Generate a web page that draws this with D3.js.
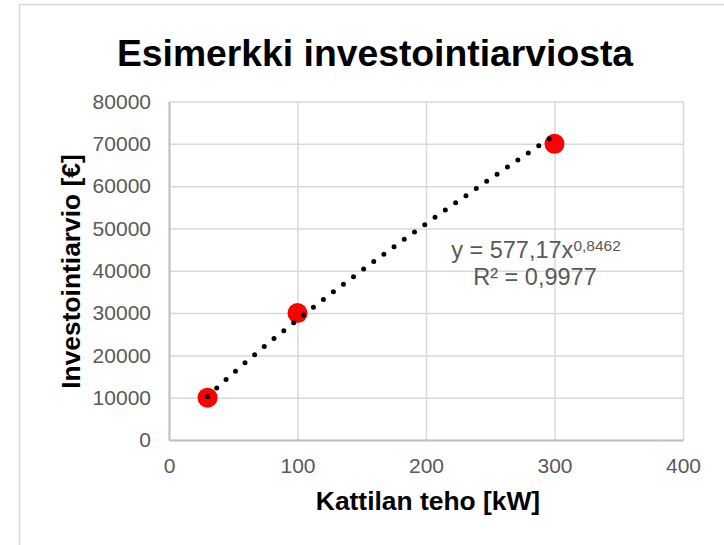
<!DOCTYPE html>
<html>
<head>
<meta charset="utf-8">
<script src="https://cdn.jsdelivr.net/npm/d3@7"></script>
<style>
  body { margin: 0; background: #fff; }
  text { font-family: "Liberation Sans", Arial, sans-serif; }
</style>
</head>
<body>
<svg width="724" height="545"></svg>
<script>
// data
const kw = [30, 100, 300];
const eur = [10000, 30000, 70000];
const xTicks = [0, 100, 200, 300, 400];
const yTicks = [0, 10000, 20000, 30000, 40000, 50000, 60000, 70000, 80000];
// power trendline as shown in the label
const trendA = 577.17, trendB = 0.8462;
const eqText = "y = 577,17x", eqExp = "0,8462", r2Text = "R² = 0,9977";

const svg = d3.select("svg");
const mLeft = 169, mTop = 101.5, mRight = 683, mBottom = 440;

// chart area border
svg.append("rect")
  .attr("x", 19.5).attr("y", 4.5)
  .attr("width", 720).attr("height", 560)
  .attr("fill", "#fff").attr("stroke", "#d9d9d9").attr("stroke-width", 1.5);

svg.append("text")
  .attr("x", 375).attr("y", 66)
  .attr("text-anchor", "middle")
  .attr("font-size", 37.3).attr("font-weight", "bold")
  .attr("fill", "#000")
  .text("Esimerkki investointiarviosta");

const x = d3.scaleLinear().domain([0, 400]).range([mLeft, mRight]);
const y = d3.scaleLinear().domain([0, 80000]).range([mBottom, mTop]);

// gridlines
svg.append("g")
  .attr("transform", "translate(0," + mBottom + ")")
  .call(d3.axisBottom(x).tickValues(xTicks).tickSize(-(mBottom - mTop)).tickFormat(""))
  .call(g => g.select(".domain").remove())
  .call(g => g.selectAll("line").attr("stroke", "#d9d9d9").attr("stroke-width", 1.5));
svg.append("g")
  .attr("transform", "translate(" + mLeft + ",0)")
  .call(d3.axisLeft(y).tickValues(yTicks).tickSize(-(mRight - mLeft)).tickFormat(""))
  .call(g => g.select(".domain").remove())
  .call(g => g.selectAll("line").attr("stroke", "#d9d9d9").attr("stroke-width", 1.5));

// axis lines + labels
const xAxis = svg.append("g")
  .attr("transform", "translate(0," + mBottom + ")")
  .call(d3.axisBottom(x).tickValues(xTicks).tickSize(0).tickPadding(18).tickFormat(d3.format("d")));
const yAxis = svg.append("g")
  .attr("transform", "translate(" + mLeft + ",0)")
  .call(d3.axisLeft(y).tickValues(yTicks).tickSize(0).tickPadding(18).tickFormat(d3.format("d")));
[xAxis, yAxis].forEach(g => {
  g.select(".domain").attr("stroke", "#bfbfbf").attr("stroke-width", 2);
  g.selectAll("text").attr("font-size", 21).attr("fill", "#595959")
    .attr("font-family", "Liberation Sans, Arial, sans-serif");
});

svg.append("text")
  .attr("x", 428).attr("y", 510)
  .attr("text-anchor", "middle")
  .attr("font-size", 26.4).attr("font-weight", "bold")
  .text("Kattilan teho [kW]");
svg.append("text")
  .attr("transform", "translate(80,271.5) rotate(-90)")
  .attr("text-anchor", "middle")
  .attr("font-size", 26.4).attr("font-weight", "bold")
  .text("Investointiarvio [€]");

// points
svg.selectAll(".pt")
  .data(kw)
  .enter().append("circle")
  .attr("class", "pt")
  .attr("cx", d => x(d))
  .attr("cy", (d, i) => y(eur[i]))
  .attr("r", 10)
  .attr("fill", "#ff0000");

// trendline, drawn over the markers
const xs = d3.range(kw[0], kw[kw.length - 1] + 0.5, 1);
svg.append("path")
  .datum(xs)
  .attr("fill", "none")
  .attr("stroke", "#000")
  .attr("stroke-width", 5)
  .attr("stroke-linecap", "round")
  .attr("stroke-dasharray", "0 12.6")
  .attr("d", d3.line().x(d => x(d)).y(d => y(trendA * Math.pow(d, trendB))));

// equation label
const eq = svg.append("text")
  .attr("x", 536).attr("y", 258)
  .attr("text-anchor", "middle")
  .attr("font-size", 23.5).attr("fill", "#595959");
eq.append("tspan").text(eqText);
eq.append("tspan").attr("dy", -7).attr("font-size", 15.5).text(eqExp);
svg.append("text")
  .attr("x", 535).attr("y", 285)
  .attr("text-anchor", "middle")
  .attr("font-size", 23.5).attr("fill", "#595959")
  .text(r2Text);
</script>
</body>
</html>
